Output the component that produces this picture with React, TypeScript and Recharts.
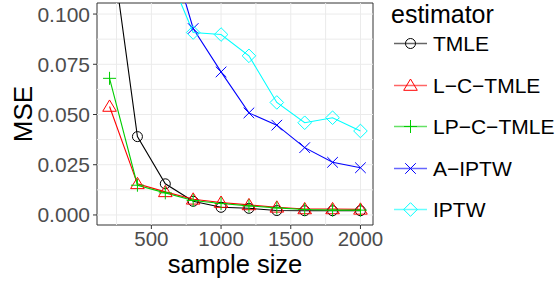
import { LineChart, Line, XAxis, YAxis, ReferenceLine, ReferenceArea, Label } from 'recharts';

const sizes = [200, 400, 600, 800, 1000, 1200, 1400, 1600, 1800, 2000];
const tmle = [0.141, 0.039, 0.0155, 0.0068, 0.0038, 0.0033, 0.0022, 0.0021, 0.0021, 0.0021];
const lcTmle = [0.054, 0.0155, 0.0115, 0.0078, 0.0062, 0.005, 0.0038, 0.003, 0.003, 0.0028];
const lpcTmle = [0.068, 0.0148, 0.011, 0.0072, 0.0057, 0.0045, 0.0035, 0.0027, 0.0024, 0.0024];
const aIptw = [0.4, 0.25, 0.14, 0.0928, 0.0712, 0.0508, 0.0447, 0.0335, 0.0262, 0.0235];
const iptw = [0.35, 0.2, 0.124, 0.0908, 0.0898, 0.0792, 0.056, 0.0459, 0.0484, 0.0418];

const xTicks = [500, 1000, 1500, 2000];
const xMinor = [250, 750, 1250, 1750];
const yTicks = [0, 0.025, 0.05, 0.075, 0.1];
const yMinor = [0.0125, 0.0375, 0.0625, 0.0875];

const FONT = '"Liberation Sans", Arial, Helvetica, sans-serif';

const data = sizes.map((n, i) => ({
  n,
  tmle: tmle[i],
  lc: lcTmle[i],
  lp: lpcTmle[i],
  aiptw: aIptw[i],
  iptw: iptw[i],
}));

type ShapeProps = { cx?: number; cy?: number; color: string };

function CircleShape({ cx = 0, cy = 0, color }: ShapeProps) {
  return <circle cx={cx} cy={cy} r={5} fill="none" stroke={color} strokeWidth={1} />;
}
function TriangleShape({ cx = 0, cy = 0, color }: ShapeProps) {
  return (
    <polygon
      points={`${cx},${cy - 6.5} ${cx - 6.8},${cy + 4.8} ${cx + 6.8},${cy + 4.8}`}
      fill="none"
      stroke={color}
      strokeWidth={1}
    />
  );
}
function PlusShape({ cx = 0, cy = 0, color }: ShapeProps) {
  return (
    <path d={`M${cx - 6.5},${cy}H${cx + 6.5}M${cx},${cy - 6.5}V${cy + 6.5}`} stroke={color} strokeWidth={1} fill="none" />
  );
}
function CrossShape({ cx = 0, cy = 0, color }: ShapeProps) {
  const d = 5.3;
  return (
    <path
      d={`M${cx - d},${cy - d}L${cx + d},${cy + d}M${cx - d},${cy + d}L${cx + d},${cy - d}`}
      stroke={color}
      strokeWidth={1}
      fill="none"
    />
  );
}
function DiamondShape({ cx = 0, cy = 0, color }: ShapeProps) {
  const d = 6.8;
  return (
    <polygon
      points={`${cx},${cy - d} ${cx + d},${cy} ${cx},${cy + d} ${cx - d},${cy}`}
      fill="none"
      stroke={color}
      strokeWidth={1}
    />
  );
}

const SERIES = [
  { key: 'tmle', name: 'TMLE', color: '#000000', Shape: CircleShape },
  { key: 'lc', name: 'L\u2212C\u2212TMLE', color: '#FF0000', Shape: TriangleShape },
  { key: 'lp', name: 'LP\u2212C\u2212TMLE', color: '#00CD00', Shape: PlusShape },
  { key: 'aiptw', name: 'A\u2212IPTW', color: '#0000FF', Shape: CrossShape },
  { key: 'iptw', name: 'IPTW', color: '#00FFFF', Shape: DiamondShape },
];

function LegendBox() {
  return (
    <svg width={559} height={283} style={{ position: 'absolute', left: 0, top: 0, pointerEvents: 'none' }}>
      <text x={391} y={22.5} fontSize={25} fontFamily={FONT} fill="#000">
        estimator
      </text>
      {SERIES.map((s, i) => {
        const y = Math.round(43 + i * 41.5) + 0.5;
        const S = s.Shape;
        return (
          <g key={s.key}>
            <line x1={394} x2={427} y1={y} y2={y} stroke={s.color} strokeWidth={1.6} strokeOpacity={0.6} />
            <S cx={410.5} cy={y} color={s.color} />
            <text x={433} y={y + 7.5} fontSize={21} fontFamily={FONT} fill="#000">
              {s.name}
            </text>
          </g>
        );
      })}
    </svg>
  );
}

export default function App() {
  return (
    <div style={{ position: 'absolute', left: 0, top: 0, width: 559, height: 283, background: '#fff' }}>
      <LineChart width={559} height={283} data={data} margin={{ top: 3, right: 186, bottom: 0, left: 0 }}>
        <XAxis
          dataKey="n"
          type="number"
          domain={[110, 2090]}
          ticks={xTicks}
          allowDataOverflow
          height={58}
          tickSize={4}
          tickMargin={2}
          axisLine={false}
          tickLine={{ stroke: '#333333' }}
          tick={{ fill: '#4D4D4D', fontSize: 20.5, fontFamily: FONT }}
        >
          <Label value="sample size" position="insideBottom" offset={10} fill="#000" fontSize={25.5} fontFamily={FONT} />
        </XAxis>
        <YAxis
          type="number"
          domain={[-0.005, 0.1055]}
          ticks={yTicks}
          allowDataOverflow
          width={97}
          tickSize={4}
          tickMargin={3}
          axisLine={false}
          tickLine={{ stroke: '#333333' }}
          tickFormatter={(v: number) => v.toFixed(3)}
          tick={{ fill: '#4D4D4D', fontSize: 21, fontFamily: FONT }}
        >
          <Label
            value="MSE"
            position="insideLeft"
            angle={-90}
            offset={23}
            fill="#000"
            fontSize={26}
            fontFamily={FONT}
            style={{ textAnchor: 'middle' }}
          />
        </YAxis>
        {[...xMinor, ...xTicks].map((v) => (
          <ReferenceLine key={`gx${v}`} x={v} stroke="#EBEBEB" strokeWidth={1} />
        ))}
        {[...yMinor, ...yTicks].map((v) => (
          <ReferenceLine key={`gy${v}`} y={v} stroke="#EBEBEB" strokeWidth={1} />
        ))}
        {SERIES.map((s) => (
          <Line
            key={s.key}
            dataKey={s.key}
            stroke={s.color}
            strokeWidth={1.1}
            isAnimationActive={false}
            dot={(p: any) => <s.Shape key={`${s.key}-${p.index}`} cx={p.cx} cy={p.cy} color={s.color} />}
            activeDot={false}
          />
        ))}
        <ReferenceArea x1={110} x2={2090} y1={-0.005} y2={0.1055} fill="none" fillOpacity={0} stroke="#333333" strokeWidth={1} />
      </LineChart>
      <LegendBox />
    </div>
  );
}
